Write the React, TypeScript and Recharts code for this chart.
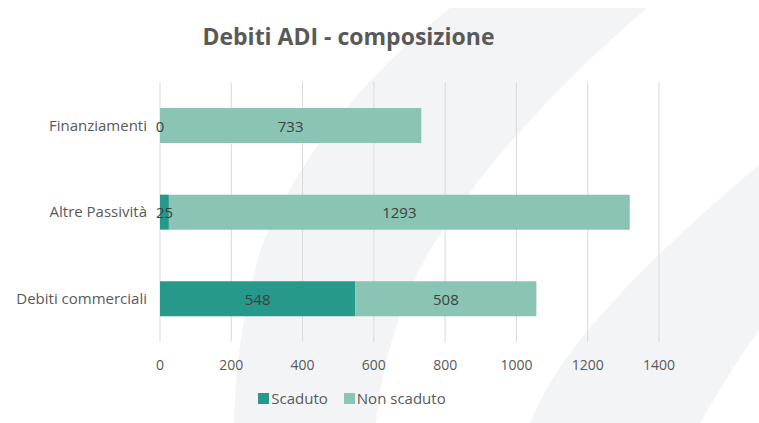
import React from "react";
import { BarChart, Bar, XAxis, YAxis, CartesianGrid, LabelList } from "recharts";

const categories = ["Finanziamenti", "Altre Passività", "Debiti commerciali"];
const scaduto = [0, 25, 548];
const nonScaduto = [733, 1293, 508];
const xTicks = [0, 200, 400, 600, 800, 1000, 1200, 1400];
const seriesNames = ["Scaduto", "Non scaduto"];

const COLORS = ["#26998a", "#89c4b4"];
const FONT = "'Open Sans', 'Noto Sans', sans-serif";

const data = categories.map((c, i) => ({ name: c, scaduto: scaduto[i], nonScaduto: nonScaduto[i] }));

const renderLabel = (props: any) => {
  const { x, y, width, height, value } = props;
  return (
    <text
      x={Number(x) + Number(width) / 2}
      y={Number(y) + Number(height) / 2}
      textAnchor="middle"
      dominantBaseline="central"
      fill="#404040"
      fontSize={15}
      fontFamily={FONT}
    >
      {value}
    </text>
  );
};

export default function App() {
  return (
    <div style={{ position: "absolute", left: 0, top: 0, width: 759, height: 423, background: "#ffffff", overflow: "hidden" }}>
      <svg width={759} height={423} style={{ position: "absolute", left: 0, top: 0 }}>
        <path d="M450 8 L647 8 Q505 130 430 250 Q385 330 376 423 L234 423 Q236 330 262 245 Q320 110 450 8 Z" fill="#f3f4f6" />
        <path d="M759 165 Q640 265 580 340 Q545 385 530 423 L700 423 Q730 370 759 330 Z" fill="#f3f4f6" />
      </svg>
      <div style={{ position: "absolute", left: 0, top: 20, width: 697, textAlign: "center", fontFamily: FONT, fontWeight: 700, fontSize: 23, color: "#595959" }}>
        Debiti ADI - composizione
      </div>
      <div style={{ position: "absolute", left: 0, top: 0 }}>
        <BarChart
          width={759}
          height={423}
          data={data}
          layout="vertical"
          margin={{ top: 82, right: 100, bottom: 51, left: 0 }}
          barCategoryGap={0}
        >
          <CartesianGrid horizontal={false} stroke="#d9d9d9" />
          <XAxis
            type="number"
            domain={[0, 1400]}
            ticks={xTicks}
            axisLine={false}
            tickLine={false}
            tickMargin={12}
            tick={{ fill: "#595959", fontSize: 14, fontFamily: FONT }}
            interval={0}
          />
          <YAxis
            type="category"
            dataKey="name"
            width={160}
            axisLine={false}
            tickLine={false}
            tickMargin={7}
            tick={{ fill: "#595959", fontSize: 15, fontFamily: FONT }}
          />
          <Bar dataKey="scaduto" name={seriesNames[0]} stackId="a" fill={COLORS[0]} barSize={35} minPointSize={0.01} isAnimationActive={false}>
            <LabelList dataKey="scaduto" content={renderLabel} />
          </Bar>
          <Bar dataKey="nonScaduto" name={seriesNames[1]} stackId="a" fill={COLORS[1]} barSize={35} isAnimationActive={false}>
            <LabelList dataKey="nonScaduto" content={renderLabel} />
          </Bar>
        </BarChart>
      </div>
      <div style={{ position: "absolute", left: 0, top: 388, width: 704, display: "flex", justifyContent: "center", fontFamily: FONT, fontSize: 15, color: "#595959", lineHeight: "20px" }}>
        {seriesNames.map((n, i) => (
          <div key={n} style={{ display: "flex", alignItems: "center", marginRight: i === 0 ? 16 : 0 }}>
            <span style={{ display: "inline-block", width: 11, height: 11, background: COLORS[i], marginRight: 2 }} />
            <span>{n}</span>
          </div>
        ))}
      </div>
    </div>
  );
}
